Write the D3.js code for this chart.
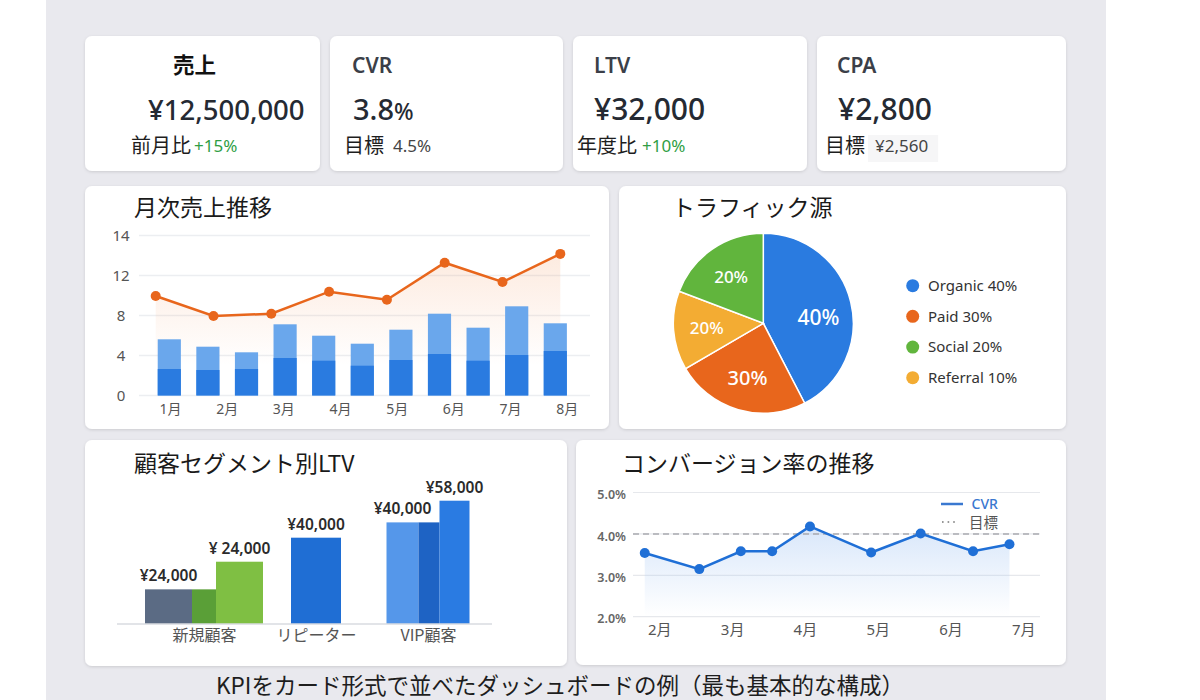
<!DOCTYPE html>
<html>
<head>
<meta charset="utf-8">
<script src="https://cdn.jsdelivr.net/npm/d3@7"></script>
<style>
  html, body { margin: 0; padding: 0; background: #fff; }
  svg { display: block; }
</style>
</head>
<body>
<div id="chart"></div>
<script>
const width = 1200;
const height = 700;

// ---- data ----
const kpiTitles = ["売上", "CVR", "LTV", "CPA"];
const kpiValues = ["¥12,500,000", "3.8", "¥32,000", "¥2,800"];
const kpiUnits = ["", "%", "", ""];
const kpiSubLabels = ["前月比", "目標", "年度比", "目標"];
const kpiSubValues = ["+15%", "4.5%", "+10%", "¥2,560"];
const kpiSubGood = [true, false, true, false];

const chartTitles = ["月次売上推移", "トラフィック源", "顧客セグメント別LTV", "コンバージョン率の推移"];

const salesMonths = ["1月", "2月", "3月", "4月", "5月", "6月", "7月", "8月"];
const salesTicks = [0, 4, 8, 12, 14];
const salesBarBase = [2.65, 2.55, 2.65, 3.75, 3.48, 2.98, 3.55, 4.15, 3.48, 4.05, 4.45];
const salesBarTotal = [5.62, 4.88, 4.32, 7.12, 5.98, 5.18, 6.58, 8.18, 6.78, 8.92, 7.22];
const salesLine = [9.95, 7.95, 8.18, 10.38, 9.58, 12.64, 11.35, 13.08];

const trafficNames = ["Organic", "Paid", "Referral", "Social"];
const trafficShares = [42.4, 24.2, 14.2, 19.2];
const trafficSliceLabels = ["40%", "30%", "20%", "20%"];
const trafficLegendNames = ["Organic", "Paid", "Social", "Referral"];
const trafficLegendLabels = ["Organic 40%", "Paid 30%", "Social 20%", "Referral 10%"];

const ltvSegments = ["新規顧客", "リピーター", "VIP顧客"];
const ltvBarSegment = [0, 0, 0, 1, 2, 2, 2];
const ltvBarValues = [16300, 16300, 29300, 40600, 47800, 47800, 58000];
const ltvBarLabels = ["¥24,000", "", "¥ 24,000", "¥40,000", "¥40,000", "", "¥58,000"];

const cvrTicks = [2, 3, 4, 5];
const cvrMonthTicks = [2, 3, 4, 5, 6, 7];
const cvrMonthPos = [1.8, 2.55, 3.12, 3.55, 4.07, 4.91, 5.59, 6.31, 6.81];
const cvrValues = [3.54, 3.15, 3.58, 3.58, 4.18, 3.55, 4.01, 3.58, 3.75];
const cvrTarget = 4.0;

const caption = "KPIをカード形式で並べたダッシュボードの例（最も基本的な構成）";

// ---- styles ----
const latin = '"Noto Sans", "Noto Sans CJK JP", sans-serif';
const jp = '"Noto Sans CJK JP", "Noto Sans", sans-serif';
const orange = "#e8661c";

const svg = d3.select("#chart").append("svg")
  .attr("width", width)
  .attr("height", height)
  .attr("viewBox", [0, 0, width, height]);

svg.append("rect").attr("width", width).attr("height", height).attr("fill", "#fff");
svg.append("rect").attr("x", 46).attr("width", 1060).attr("height", height).attr("fill", "#e9e9ee");

const defs = svg.append("defs");
defs.append("filter").attr("id", "shadow")
  .attr("x", "-5%").attr("y", "-5%").attr("width", "110%").attr("height", "115%")
  .append("feDropShadow")
  .attr("dx", 0).attr("dy", 1).attr("stdDeviation", 1.6)
  .attr("flood-color", "#000").attr("flood-opacity", 0.13);

function card(x, y, w, h) {
  svg.append("rect")
    .attr("x", x).attr("y", y).attr("width", w).attr("height", h)
    .attr("rx", 7)
    .attr("fill", "#fff")
    .attr("filter", "url(#shadow)");
}

// ---- KPI cards ----
const kpiLayout = [
  { x: 85, w: 235, tx: 88, vx: 63, sx: 46, gap: 3, vSize: 27.5 },
  { x: 330, w: 233, tx: 22, vx: 23, sx: 14, gap: 9, vSize: 29 },
  { x: 573, w: 234, tx: 21, vx: 21, sx: 4, gap: 5, vSize: 30 },
  { x: 817, w: 249, tx: 20, vx: 21, sx: 8, gap: 10, vSize: 30 }
];

kpiTitles.forEach((title, i) => {
  const L = kpiLayout[i];
  card(L.x, 36, L.w, 135);

  svg.append("text")
    .attr("x", L.x + L.tx).attr("y", 73)
    .attr("font-family", i === 0 ? jp : latin)
    .attr("font-size", i === 0 ? "21.5px" : "21px")
    .attr("font-weight", i === 0 ? 700 : 600)
    .attr("fill", i === 0 ? "#111" : "#3b3f48")
    .text(title);

  const v = svg.append("text")
    .attr("x", L.x + L.vx).attr("y", 120)
    .attr("font-family", latin)
    .attr("font-size", L.vSize + "px")
    .attr("font-weight", 500)
    .attr("fill", "#252a33")
    .text(kpiValues[i]);
  if (kpiUnits[i]) {
    v.append("tspan").attr("font-size", "23px").text(kpiUnits[i]);
  }

  const sub = svg.append("text")
    .attr("x", L.x + L.sx).attr("y", 153)
    .attr("font-family", jp)
    .attr("font-size", "20px")
    .attr("fill", "#1e1e1e")
    .text(kpiSubLabels[i]);
  const subEnd = L.x + L.sx + sub.node().getComputedTextLength();

  const sv = svg.append("text")
    .attr("x", subEnd + L.gap).attr("y", 152)
    .attr("font-family", latin)
    .attr("font-size", "17px")
    .attr("fill", kpiSubGood[i] ? "#2f9e44" : "#444")
    .text(kpiSubValues[i]);

  if (i === 3) {
    const b = sv.node().getBBox();
    svg.insert("rect", () => sv.node())
      .attr("x", b.x - 7).attr("y", 135)
      .attr("width", b.width + 17).attr("height", 27)
      .attr("fill", "#f6f6f7");
  }
});

// ---- chart cards ----
card(85, 186, 524, 243);
card(619, 186, 447, 243);
card(85, 440, 482, 226);
card(576, 440, 490, 225);

const titlePos = [[134, 216], [672, 216], [134, 472], [622, 472]];
chartTitles.forEach((t, i) => {
  svg.append("text")
    .attr("x", titlePos[i][0]).attr("y", titlePos[i][1])
    .attr("font-family", jp)
    .attr("font-size", "23px")
    .attr("fill", "#1a1a1a")
    .text(t);
});

// ---- monthly sales ----
const salesY = d3.scaleLinear()
  .domain(salesTicks)
  .range(salesTicks.map((d, i) => 395.5 - i * 40));

const barX = d3.scaleBand()
  .domain(d3.range(salesBarTotal.length))
  .range([150, 574.6])
  .paddingInner(0.4)
  .paddingOuter(0.2);

const lineX = d3.scalePoint().domain(salesMonths).range([155.7, 560.3]);
const labelX = d3.scalePoint().domain(salesMonths).range([170, 566.7]);

const salesG = svg.append("g");

salesG.selectAll("line.grid")
  .data(salesTicks)
  .join("line")
  .attr("class", "grid")
  .attr("x1", 139).attr("x2", 590)
  .attr("y1", d => salesY(d)).attr("y2", d => salesY(d))
  .attr("stroke", "#eceef1")
  .attr("stroke-width", 1.5);

const salesGrad = defs.append("linearGradient")
  .attr("id", "salesGrad")
  .attr("gradientUnits", "userSpaceOnUse")
  .attr("x1", 0).attr("x2", 0)
  .attr("y1", salesY(13)).attr("y2", salesY(3));
salesGrad.append("stop").attr("offset", 0).attr("stop-color", "#f39a63").attr("stop-opacity", 0.2);
salesGrad.append("stop").attr("offset", 1).attr("stop-color", "#f39a63").attr("stop-opacity", 0);

salesG.append("path")
  .datum(salesLine)
  .attr("fill", "url(#salesGrad)")
  .attr("d", d3.area()
    .x((d, i) => lineX(salesMonths[i]))
    .y0(salesY(0))
    .y1(d => salesY(d)));

salesG.selectAll("rect.total")
  .data(salesBarTotal)
  .join("rect")
  .attr("class", "total")
  .attr("x", (d, i) => barX(i))
  .attr("width", barX.bandwidth())
  .attr("y", d => salesY(d))
  .attr("height", d => salesY(0) - salesY(d))
  .attr("fill", "#6aa7ec");

salesG.selectAll("rect.base")
  .data(salesBarBase)
  .join("rect")
  .attr("class", "base")
  .attr("x", (d, i) => barX(i))
  .attr("width", barX.bandwidth())
  .attr("y", d => salesY(d))
  .attr("height", d => salesY(0) - salesY(d))
  .attr("fill", "#2a7be0");

salesG.append("path")
  .datum(salesLine)
  .attr("fill", "none")
  .attr("stroke", orange)
  .attr("stroke-width", 2.5)
  .attr("d", d3.line()
    .x((d, i) => lineX(salesMonths[i]))
    .y(d => salesY(d)));

salesG.selectAll("circle")
  .data(salesLine)
  .join("circle")
  .attr("cx", (d, i) => lineX(salesMonths[i]))
  .attr("cy", d => salesY(d))
  .attr("r", 5)
  .attr("fill", orange);

const salesYAxis = svg.append("g")
  .attr("transform", "translate(121,0)")
  .call(d3.axisLeft(salesY).tickValues(salesTicks).tickSize(0).tickPadding(0));
salesYAxis.select(".domain").remove();
salesYAxis.selectAll("text")
  .attr("x", 0)
  .attr("dy", "0.3em")
  .attr("text-anchor", "middle")
  .attr("font-family", latin)
  .attr("font-size", "15px")
  .attr("fill", "#555");

const salesXAxis = svg.append("g")
  .attr("transform", "translate(0,404)")
  .call(d3.axisBottom(labelX).tickSize(0).tickPadding(0));
salesXAxis.select(".domain").remove();
salesXAxis.selectAll("text")
  .attr("font-family", latin)
  .attr("font-size", "14px")
  .attr("fill", "#555");

// ---- traffic pie ----
const pieColor = d3.scaleOrdinal()
  .domain(["Organic", "Paid", "Social", "Referral"])
  .range(["#2a7be0", "#e8661c", "#61b53d", "#f3ac33"]);

const pieData = d3.pie().sort(null).value(d => d.share)(
  trafficNames.map((name, i) => ({ name, share: trafficShares[i], label: trafficSliceLabels[i] }))
);

const pieR = 90;
const pieG = svg.append("g").attr("transform", "translate(763.3,323.3)");
const arc = d3.arc().innerRadius(0).outerRadius(pieR);
const labelArc = d3.arc().innerRadius(pieR * 0.63).outerRadius(pieR * 0.63);

pieG.selectAll("path")
  .data(pieData)
  .join("path")
  .attr("d", arc)
  .attr("fill", d => pieColor(d.data.name))
  .attr("stroke", "#fff")
  .attr("stroke-width", 1.5);

pieG.selectAll("text")
  .data(pieData)
  .join("text")
  .attr("transform", d => {
    const [cx, cy] = labelArc.centroid(d);
    // the largest slice's label sits a little lower, nearer the centre line
    return d.index === 0 ? `translate(${cx},${cy + 8})` : `translate(${cx},${cy})`;
  })
  .attr("text-anchor", "middle")
  .attr("dy", "0.36em")
  .attr("font-family", latin)
  .attr("font-weight", 500)
  .attr("font-size", d => d.data.share > 30 ? "21px" : d.data.share > 20 ? "20px" : "17px")
  .attr("fill", "#fff")
  .text(d => d.data.label);

const legendY = d3.scalePoint().domain(trafficLegendNames).range([285.7, 377.7]);
const legend = svg.append("g");
legend.selectAll("circle")
  .data(trafficLegendNames)
  .join("circle")
  .attr("cx", 912.7)
  .attr("cy", d => legendY(d))
  .attr("r", 6.5)
  .attr("fill", d => pieColor(d));
legend.selectAll("text")
  .data(trafficLegendNames)
  .join("text")
  .attr("x", 928)
  .attr("y", d => legendY(d))
  .attr("dy", "0.36em")
  .attr("font-family", latin)
  .attr("font-size", "15px")
  .attr("fill", "#333")
  .text((d, i) => trafficLegendLabels[i]);

// ---- LTV by segment ----
const ltvBarColors = ["#5b6b84", "#5a9f37", "#7fbf43", "#1f6ed4", "#5597ea", "#1e63c4", "#2a7be2"];
const ltvBarWidths = [47, 24, 47, 50, 32, 21, 30];

const segX = d3.scalePoint().domain(ltvSegments).range([204, 428]);
const ltvY = d3.scaleLinear().domain([0, 58000]).range([624, 500.7]);

// lay bars of a segment side by side around the segment centre
const ltvBars = ltvBarValues.map((value, i) => ({
  value,
  seg: ltvSegments[ltvBarSegment[i]],
  w: ltvBarWidths[i],
  color: ltvBarColors[i],
  label: ltvBarLabels[i]
}));
ltvSegments.forEach(seg => {
  const bars = ltvBars.filter(b => b.seg === seg);
  let x = segX(seg) - d3.sum(bars, b => b.w) / 2;
  bars.forEach(b => { b.x = x; x += b.w; });
});

const ltvG = svg.append("g");
ltvG.selectAll("rect")
  .data(ltvBars)
  .join("rect")
  .attr("x", d => d.x)
  .attr("width", d => d.w)
  .attr("y", d => ltvY(d.value))
  .attr("height", d => ltvY(0) - ltvY(d.value))
  .attr("fill", d => d.color);

ltvG.append("line")
  .attr("x1", 117).attr("x2", 492)
  .attr("y1", ltvY(0)).attr("y2", ltvY(0))
  .attr("stroke", "#d8dbe1")
  .attr("stroke-width", 1.5);

ltvG.selectAll("text.val")
  .data(ltvBars.filter(d => d.label))
  .join("text")
  .attr("class", "val")
  .attr("x", d => d.x + d.w / 2)
  .attr("y", d => ltvY(d.value) - 8)
  .attr("text-anchor", "middle")
  .attr("font-family", latin)
  .attr("font-size", "15.5px")
  .attr("font-weight", 600)
  .attr("fill", "#2b2b2b")
  .text(d => d.label);

const ltvXAxis = svg.append("g")
  .attr("transform", "translate(0,630)")
  .call(d3.axisBottom(segX).tickSize(0).tickPadding(0));
ltvXAxis.select(".domain").remove();
ltvXAxis.selectAll("text")
  .attr("font-family", jp)
  .attr("font-size", "16px")
  .attr("fill", "#555");

// ---- CVR trend ----
const cvrX = d3.scaleLinear().domain([2, 7]).range([659.3, 1023.3]);
const cvrY = d3.scaleLinear().domain([2, 5]).range([616.7, 492.5]);

const cvrG = svg.append("g");
cvrG.selectAll("line.grid")
  .data(cvrTicks)
  .join("line")
  .attr("class", "grid")
  .attr("x1", 633).attr("x2", 1040)
  .attr("y1", d => cvrY(d)).attr("y2", d => cvrY(d))
  .attr("stroke", "#e6e8ec")
  .attr("stroke-width", 1.2);

const cvrGrad = defs.append("linearGradient")
  .attr("id", "cvrGrad")
  .attr("gradientUnits", "userSpaceOnUse")
  .attr("x1", 0).attr("x2", 0)
  .attr("y1", cvrY(4.2)).attr("y2", cvrY(2));
cvrGrad.append("stop").attr("offset", 0).attr("stop-color", "#a9c9f4").attr("stop-opacity", 0.45);
cvrGrad.append("stop").attr("offset", 1).attr("stop-color", "#a9c9f4").attr("stop-opacity", 0);

cvrG.append("path")
  .datum(cvrValues)
  .attr("fill", "url(#cvrGrad)")
  .attr("d", d3.area()
    .x((d, i) => cvrX(cvrMonthPos[i]))
    .y0(cvrY(2))
    .y1(d => cvrY(d)));

cvrG.append("line")
  .attr("x1", 633).attr("x2", 1040)
  .attr("y1", cvrY(cvrTarget)).attr("y2", cvrY(cvrTarget))
  .attr("stroke", "#a9abb0")
  .attr("stroke-width", 1.5)
  .attr("stroke-dasharray", "6,4");

cvrG.append("path")
  .datum(cvrValues)
  .attr("fill", "none")
  .attr("stroke", "#1f6fd6")
  .attr("stroke-width", 2.5)
  .attr("d", d3.line()
    .x((d, i) => cvrX(cvrMonthPos[i]))
    .y(d => cvrY(d)));

cvrG.selectAll("circle")
  .data(cvrValues)
  .join("circle")
  .attr("cx", (d, i) => cvrX(cvrMonthPos[i]))
  .attr("cy", d => cvrY(d))
  .attr("r", 5)
  .attr("fill", "#1f6fd6");

const cvrYAxis = svg.append("g")
  .attr("transform", "translate(626,0)")
  .call(d3.axisLeft(cvrY).tickValues(cvrTicks).tickSize(0).tickPadding(0)
    .tickFormat(d => d3.format(".1f")(d) + "%"));
cvrYAxis.select(".domain").remove();
cvrYAxis.selectAll("text")
  .attr("dy", "0.5em")
  .attr("font-family", latin)
  .attr("font-size", "12.5px")
  .attr("font-weight", 600)
  .attr("fill", "#666");

const cvrXAxis = svg.append("g")
  .attr("transform", "translate(0,624)")
  .call(d3.axisBottom(cvrX).tickValues(cvrMonthTicks).tickSize(0).tickPadding(0)
    .tickFormat(d => d + "月"));
cvrXAxis.select(".domain").remove();
cvrXAxis.selectAll("text")
  .attr("font-family", latin)
  .attr("font-size", "15px")
  .attr("fill", "#555");

// legend
cvrG.append("line")
  .attr("x1", 941).attr("x2", 963)
  .attr("y1", 504).attr("y2", 504)
  .attr("stroke", "#3a78d0")
  .attr("stroke-width", 2.5);
cvrG.append("text")
  .attr("x", 971.5).attr("y", 509)
  .attr("font-family", latin)
  .attr("font-size", "14px")
  .attr("font-weight", 500)
  .attr("fill", "#3a78d0")
  .text("CVR");
cvrG.append("line")
  .attr("x1", 942).attr("x2", 956)
  .attr("y1", 522).attr("y2", 522)
  .attr("stroke", "#777")
  .attr("stroke-width", 1.6)
  .attr("stroke-dasharray", "1.6,4");
cvrG.append("text")
  .attr("x", 969).attr("y", 528)
  .attr("font-family", jp)
  .attr("font-size", "14.5px")
  .attr("fill", "#555")
  .text("目標");

// ---- caption ----
svg.append("text")
  .attr("x", 560).attr("y", 694)
  .attr("text-anchor", "middle")
  .attr("font-family", jp)
  .attr("font-size", "22.5px")
  .attr("fill", "#1e1e1e")
  .text(caption);
</script>
</body>
</html>
